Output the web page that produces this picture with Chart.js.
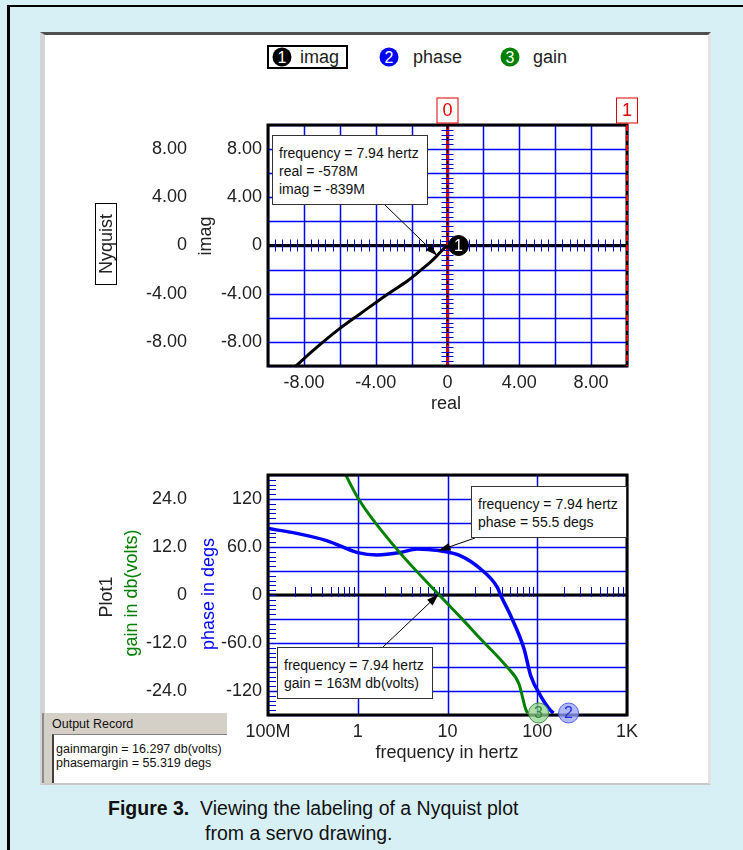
<!DOCTYPE html>
<html>
<head>
<meta charset="utf-8">
<script src="https://cdn.jsdelivr.net/npm/chart.js@4/dist/chart.umd.min.js"></script>
<style>
  body { margin: 0; width: 743px; height: 850px; position: relative; overflow: hidden;
         background: #d7f0f5; font-family: Arial, "Liberation Sans", Helvetica, sans-serif; color: #222; }
  #frame { position: absolute; left: 7px; top: 5px; right: 0; bottom: 0;
           border-left: 3px solid #000; border-top: 2px solid #000; }
  #panel { position: absolute; left: 40px; top: 32px; width: 671px; height: 753px; box-sizing: border-box;
           background: #fff; border-top: 3px solid #505050; border-left: 5px solid #d4d4d4;
           border-right: 3px solid #e2e2e2; border-bottom: 2px solid #c8c8c8; }
  canvas { position: absolute; left: 0; }
  .rot { position: absolute; white-space: nowrap; transform: translate(-50%, -50%) rotate(-90deg); font-size: 18px; }
  .lbl { position: absolute; white-space: nowrap; transform: translate(-50%, -50%); font-size: 18px; }
  .note { position: absolute; background: #fff; border: 1px solid #333; box-sizing: border-box;
          font-size: 14px; line-height: 18px; padding: 8px 0 0 6px; white-space: nowrap; color: #111; }
  .dot { position: absolute; width: 19px; height: 19px; border-radius: 50%; color: #fff; font-size: 16px;
         line-height: 19px; text-align: center; transform: translate(-50%, -50%); }
  #legend span.t { position: absolute; font-size: 18px; transform: translateY(-50%); }
  #rec { position: absolute; left: 42px; top: 713px; width: 185px; height: 70px; background: #d4d0c8;
         border-left: 2px solid #8a8a8a; box-sizing: border-box; }
  #rec .head { position: absolute; left: 8px; top: 4px; font-size: 12.5px; color: #111; }
  #rec .body { position: absolute; left: 8px; top: 21px; right: 0; bottom: 0; background: #fff;
               border-left: 2px solid #404040; border-top: 1px solid #808080;
               font-size: 12.5px; line-height: 14px; padding: 7px 0 0 2px; color: #111; white-space: nowrap; }
  .cap { position: absolute; font-size: 19.5px; white-space: nowrap; color: #111; }
</style>
</head>
<body>
<div id="frame"></div>
<div id="panel"></div>

<div id="legend">
  <div style="position:absolute;left:267px;top:45px;width:81px;height:24px;border:2px solid #000;box-sizing:border-box"></div>
  <div class="dot" style="left:282px;top:57px;background:#000">1</div>
  <span class="t" style="left:300px;top:57px">imag</span>
  <div class="dot" style="left:389px;top:57px;background:#0000ff">2</div>
  <span class="t" style="left:413px;top:57px">phase</span>
  <div class="dot" style="left:510px;top:57px;background:#008000">3</div>
  <span class="t" style="left:533px;top:57px">gain</span>
</div>

<canvas id="nyq" width="743" height="330" style="top:90px"></canvas>
<canvas id="bode" width="743" height="330" style="top:440px"></canvas>

<div class="rot" style="left:106px;top:244px;border:1px solid #000;padding:0 10px;line-height:20px">Nyquist</div>
<div class="rot" style="left:205px;top:236px">imag</div>
<div class="lbl" style="left:446px;top:403px">real</div>

<div class="rot" style="left:106px;top:597px">Plot1</div>
<div class="rot" style="left:131px;top:593px;color:#008000">gain in db(volts)</div>
<div class="rot" style="left:208px;top:594px;color:#0000ff">phase in degs</div>
<div class="lbl" style="left:447px;top:752px">frequency in hertz</div>

<div class="note" style="left:272px;top:135px;width:156px;height:70px">frequency = 7.94 hertz<br>real = -578M<br>imag = -839M</div>
<div class="note" style="left:471px;top:486px;width:156px;height:52px">frequency = 7.94 hertz<br>phase = 55.5 degs</div>
<div class="note" style="left:277px;top:647px;width:156px;height:52px">frequency = 7.94 hertz<br>gain = 163M db(volts)</div>

<div id="rec">
  <div class="head">Output Record</div>
  <div class="body">gainmargin = 16.297 db(volts)<br>phasemargin = 55.319 degs</div>
</div>

<div class="cap" style="left:108px;top:797px"><b>Figure 3.</b>&nbsp; Viewing the labeling of a Nyquist plot</div>
<div class="cap" style="left:205px;top:822px">from a servo drawing.</div>

<script>
// Nyquist curve
const nyqReal = [-8.45, -7.4, -6.1, -4.8, -3.4, -2.2, -1.45, -1.0, -0.578, -0.3, -0.1, 0];
const nyqImag = [-10, -8.6, -7.0, -5.6, -4.1, -2.9, -2.0, -1.45, -0.839, -0.4, -0.12, 0];

// Bode plot, phase (degs) and gain (db)
const phaseFreq = [0.1, 0.19, 0.45, 1.0, 1.64, 2.98, 4.58, 7.94, 14, 23.4, 35.9, 39, 50.6, 71.3, 84.6, 109, 141.6, 152];
const phaseDeg = [83, 78, 68, 53, 50, 53, 57.5, 55.5, 49, 32.5, 9.6, 0, -26, -67.5, -101, -126, -144.6, -147.5];
const gainFreq = [0.725, 1.02, 2.62, 7.94, 14, 23.4, 46.4, 62.6, 74.2, 78];
const gainDb = [30.25, 24, 11.9, 0.163, -5.6, -11, -18.1, -22.25, -28.5, -29.5];

const freqTicks = [0.1, 1, 10, 100, 1000];
const freqTickLabels = ['100M', '1', '10', '100', '1K'];

// the labelled point, 7.94 hertz
const markFreq = 7.94;
const markReal = -0.578;
const markImag = -0.839;
const markPhase = 55.5;
const markGain = 0.163;

Chart.defaults.font.family = 'Arial, "Liberation Sans", Helvetica, sans-serif';
Chart.defaults.font.size = 18;
Chart.defaults.color = '#222';

function line(ctx, x1, y1, x2, y2) {
    ctx.beginPath(); ctx.moveTo(x1, y1); ctx.lineTo(x2, y2); ctx.stroke();
}
const crisp = p => Math.round(p) + 0.5;

function arrow(ctx, x1, y1, x2, y2) {
    ctx.save();
    ctx.strokeStyle = '#000'; ctx.fillStyle = '#000'; ctx.lineWidth = 1;
    line(ctx, x1, y1, x2, y2);
    const a = Math.atan2(y2 - y1, x2 - x1), L = 12, W = 4;
    ctx.beginPath();
    ctx.moveTo(x2, y2);
    ctx.lineTo(x2 - L * Math.cos(a) + W * Math.sin(a), y2 - L * Math.sin(a) - W * Math.cos(a));
    ctx.lineTo(x2 - L * Math.cos(a) - W * Math.sin(a), y2 - L * Math.sin(a) + W * Math.cos(a));
    ctx.closePath(); ctx.fill();
    ctx.restore();
}

function marker(ctx, x, y, text, fill, stroke, color) {
    ctx.save();
    ctx.beginPath(); ctx.arc(x, y, 10, 0, Math.PI * 2);
    ctx.fillStyle = fill; ctx.fill();
    ctx.strokeStyle = stroke; ctx.lineWidth = 1; ctx.stroke();
    ctx.fillStyle = color; ctx.font = '16px Arial, "Liberation Sans"';
    ctx.textAlign = 'center'; ctx.textBaseline = 'middle';
    ctx.fillText(text, x, y + 1);
    ctx.restore();
}

// blue grid lines at every tick of the given scales
function drawGrid(chart, ids) {
    const { ctx, chartArea: a } = chart;
    ctx.save();
    ctx.strokeStyle = '#0000ff'; ctx.lineWidth = 1.5;
    ids.forEach(id => {
        const s = chart.scales[id];
        s.ticks.forEach(t => {
            const p = crisp(s.getPixelForValue(t.value));
            if (s.isHorizontal()) line(ctx, p, a.top, p, a.bottom);
            else line(ctx, a.left, p, a.right, p);
        });
    });
    ctx.restore();
}

const fmt2 = v => v === 0 ? '0' : v.toFixed(2);
const nyqTick = v => Math.abs(v % 4) < 1e-9 ? fmt2(v) : '';
const phaseTick = v => Math.abs(v % 60) > 1e-9 ? '' : (v === 0 ? '0' : Math.abs(v) >= 100 ? String(v) : v.toFixed(1));
const gainTick = v => Math.abs(v % 12) > 1e-9 ? '' : (v === 0 ? '0' : v.toFixed(1));

const nyqDecor = {
    id: 'nyqDecor',
    beforeDatasetsDraw(chart) {
        const { ctx, chartArea: a, scales: { x, y } } = chart;
        drawGrid(chart, ['x', 'y']);
        const x0 = x.getPixelForValue(0), y0 = y.getPixelForValue(0);
        ctx.save();
        ctx.strokeStyle = '#000'; ctx.lineWidth = 3;
        line(ctx, a.left, y0, a.right, y0);
        // cursor 0 on the imag axis
        ctx.strokeStyle = '#d00000';
        line(ctx, x0, a.top, x0, a.bottom);
        ctx.setLineDash([4, 8]); ctx.strokeStyle = '#000'; ctx.lineWidth = 1.5;
        line(ctx, x0, a.top, x0, a.bottom);
        ctx.setLineDash([]);
        // small ticks along both axes
        ctx.strokeStyle = '#0000cc'; ctx.lineWidth = 1;
        for (let i = -25; i <= 25; i++) {
            const px = crisp(x.getPixelForValue(i * 0.4));
            const py = crisp(y.getPixelForValue(i * 0.4));
            line(ctx, px, y0 - 6, px, y0 + 6);
            line(ctx, x0 - 6, py, x0 + 6, py);
        }
        ctx.restore();
    },
    afterDatasetsDraw(chart) {
        const { ctx, chartArea: a, scales: { x, y } } = chart;
        ctx.save();
        ctx.strokeStyle = '#000'; ctx.lineWidth = 3;
        ctx.strokeRect(a.left, a.top, a.width, a.height);
        // cursor 1 at the right edge
        const x1 = x.getPixelForValue(10);
        ctx.strokeStyle = '#e00000'; ctx.lineWidth = 2; ctx.setLineDash([6, 4]);
        line(ctx, x1, a.top, x1, a.bottom);
        ctx.setLineDash([]);
        [[0, '0'], [10, '1']].forEach(([v, t]) => {
            const px = x.getPixelForValue(v);
            ctx.fillStyle = '#fff'; ctx.fillRect(px - 10.5, a.top - 27, 21, 25);
            ctx.strokeStyle = '#e00000'; ctx.lineWidth = 1;
            ctx.strokeRect(px - 10.5, a.top - 27, 21, 25);
            ctx.fillStyle = '#e00000'; ctx.font = '18px Arial, "Liberation Sans"';
            ctx.textAlign = 'center'; ctx.textBaseline = 'middle';
            ctx.fillText(t, px, a.top - 14);
        });
        const n = nyqReal.length - 1;
        marker(ctx, x.getPixelForValue(nyqReal[n]) + 11, y.getPixelForValue(nyqImag[n]), '1', '#000', '#000', '#fff');
        arrow(ctx, 385, 115, x.getPixelForValue(markReal), y.getPixelForValue(markImag));
        ctx.restore();
    }
};

const bodeDecor = {
    id: 'bodeDecor',
    beforeDatasetsDraw(chart) {
        const { ctx, chartArea: a, scales: { x, y } } = chart;
        drawGrid(chart, ['x', 'y']);
        const y0 = y.getPixelForValue(0);
        ctx.save();
        ctx.strokeStyle = '#000'; ctx.lineWidth = 3;
        line(ctx, a.left, y0, a.right, y0);
        ctx.strokeStyle = '#0000cc'; ctx.lineWidth = 1;
        for (let d = 0.1; d < 1000; d *= 10) {
            for (let k = 2; k <= 9; k++) {
                const px = crisp(x.getPixelForValue(k * d));
                line(ctx, px, y0 - 8, px, y0 + 2);
            }
        }
        for (let v = -150; v <= 150; v += 6) {
            const py = crisp(y.getPixelForValue(v));
            line(ctx, a.left, py, a.left + 8, py);
        }
        ctx.restore();
    },
    afterDatasetsDraw(chart) {
        const { ctx, chartArea: a, scales: { x, y, yg } } = chart;
        ctx.save();
        ctx.strokeStyle = '#000'; ctx.lineWidth = 3;
        ctx.strokeRect(a.left, a.top, a.width, a.height);
        const np = phaseFreq.length - 1, ng = gainFreq.length - 1;
        marker(ctx, x.getPixelForValue(gainFreq[ng]) + 11, yg.getPixelForValue(gainDb[ng]),
            '3', 'rgba(150,210,150,0.75)', '#3a9a3a', '#2e8b2e');
        marker(ctx, x.getPixelForValue(phaseFreq[np]) + 15, y.getPixelForValue(phaseDeg[np]),
            '2', 'rgba(150,160,255,0.75)', '#5060ff', '#2030e0');
        arrow(ctx, 475, 98, x.getPixelForValue(markFreq), y.getPixelForValue(markPhase));
        arrow(ctx, 383, 207, x.getPixelForValue(markFreq), yg.getPixelForValue(markGain));
        ctx.restore();
    }
};

// grid lines are drawn by the plugins from each scale's ticks
const noGrid = () => ({ display: false, drawTicks: false });

new Chart(document.getElementById('nyq'), {
    type: 'line',
    data: {
        datasets: [{
            data: nyqReal.map((v, i) => ({ x: v, y: nyqImag[i] })),
            borderColor: '#000', borderWidth: 3, pointRadius: 0,
            cubicInterpolationMode: 'monotone'
        }]
    },
    options: {
        responsive: false, animation: false, devicePixelRatio: 1,
        layout: { padding: { left: 120, right: 116, top: 35, bottom: 0 } },
        plugins: { legend: { display: false }, tooltip: { enabled: false } },
        scales: {
            x: {
                type: 'linear', min: -10, max: 10,
                ticks: { stepSize: 2, callback: nyqTick, padding: 6, maxRotation: 0, autoSkip: false },
                grid: noGrid(), border: { display: false },
                afterFit(s) { s.height = 54; }
            },
            y: {
                type: 'linear', min: -10, max: 10, weight: 0,
                ticks: { stepSize: 2, callback: nyqTick, padding: 6, autoSkip: false },
                grid: noGrid(), border: { display: false },
                afterFit(s) { s.width = 75; }
            },
            y2: {
                type: 'linear', position: 'left', min: -10, max: 10, weight: 1,
                ticks: { stepSize: 2, callback: nyqTick, padding: 6, autoSkip: false },
                grid: noGrid(), border: { display: false },
                afterFit(s) { s.width = 73; }
            }
        }
    },
    plugins: [nyqDecor]
});

new Chart(document.getElementById('bode'), {
    type: 'line',
    data: {
        datasets: [
            {
                label: 'gain', yAxisID: 'yg',
                data: gainFreq.map((f, i) => ({ x: f, y: gainDb[i] })),
                borderColor: '#008000', borderWidth: 3, pointRadius: 0,
                cubicInterpolationMode: 'monotone'
            },
            {
                label: 'phase', yAxisID: 'y',
                data: phaseFreq.map((f, i) => ({ x: f, y: phaseDeg[i] })),
                borderColor: '#0000ff', borderWidth: 3.5, pointRadius: 0,
                cubicInterpolationMode: 'monotone'
            }
        ]
    },
    options: {
        responsive: false, animation: false, devicePixelRatio: 1,
        layout: { padding: { left: 120, right: 116, top: 35, bottom: 0 } },
        plugins: { legend: { display: false }, tooltip: { enabled: false } },
        scales: {
            x: {
                type: 'logarithmic', min: 0.1, max: 1000,
                afterBuildTicks(s) { s.ticks = freqTicks.map(v => ({ value: v })); },
                ticks: { callback: (v, i) => freqTickLabels[i], padding: 6, maxRotation: 0, autoSkip: false },
                grid: noGrid(), border: { display: false },
                afterFit(s) { s.height = 55; }
            },
            y: {
                type: 'linear', min: -150, max: 150, weight: 0,
                ticks: { stepSize: 30, callback: phaseTick, padding: 6, autoSkip: false },
                grid: noGrid(), border: { display: false },
                afterFit(s) { s.width = 75; }
            },
            yg: {
                type: 'linear', position: 'left', min: -30, max: 30, weight: 1,
                ticks: { stepSize: 6, callback: gainTick, padding: 6, autoSkip: false },
                grid: noGrid(), border: { display: false },
                afterFit(s) { s.width = 73; }
            }
        }
    },
    plugins: [bodeDecor]
});
</script>
</body>
</html>
